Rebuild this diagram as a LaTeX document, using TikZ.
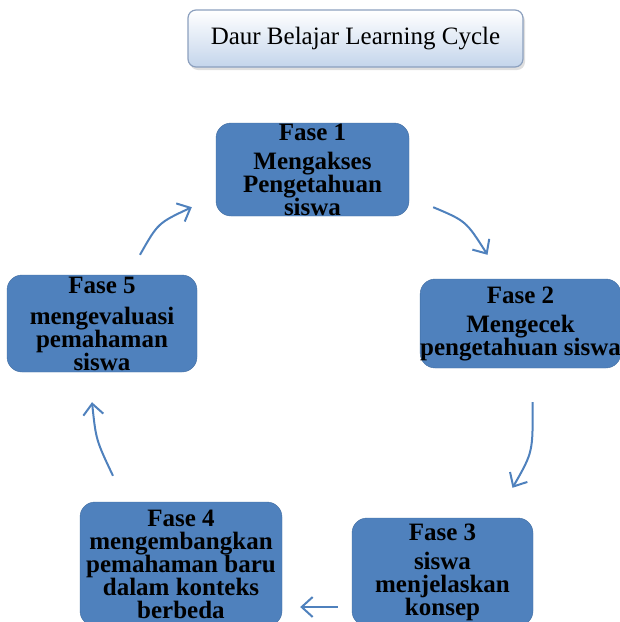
\documentclass[tikz,border=0pt]{standalone}
\usepackage{fontspec}
\setmainfont{Liberation Serif}
\usepackage{xcolor}
\definecolor{boxblue}{RGB}{79, 129, 189}
\definecolor{titleline}{RGB}{140, 160, 190}
\definecolor{titlebot}{RGB}{196, 213, 235}
\usetikzlibrary{arrows.meta,shadows}

\begin{document}
\begin{tikzpicture}[
  x=1pt, y=-1pt,
  fasebox/.style={draw=boxblue!85!black, fill=boxblue, rounded corners=15pt, align=center, inner sep=0pt,
    font=\bfseries\fontsize{25}{23}\selectfont},
  titlebox/.style={draw=titleline, line width=1.2pt, top color=white, bottom color=titlebot, rounded corners=8pt,
    minimum width=335pt, minimum height=57pt, font=\fontsize{25}{28}\selectfont,
    drop shadow={shadow xshift=2pt, shadow yshift=-3pt, opacity=0.25}},
  cycarrow/.style={-{Straight Barb[length=11pt, width=20pt]}, line width=2pt, color=boxblue}
]
\useasboundingbox (0,0) rectangle (620,622);

\node[titlebox] (title) at (355.5,38.5) {Daur Belajar Learning Cycle};

\node[fasebox, minimum width=193pt, minimum height=93pt] (f1) at (312.5,169.5) {Fase 1\\[6pt] Mengakses\\Pengetahuan\\siswa};
\node[fasebox, minimum width=197pt, minimum height=89pt] (f2) at (520.5,323.5) {Fase 2\\[6pt] Mengecek\\pengetahuan siswa};
\node[fasebox, minimum width=181pt, minimum height=108pt] (f3) at (442.5,572) {Fase 3\\[6pt] siswa\\menjelaskan\\konsep};
\node[fasebox, minimum width=202pt, minimum height=124pt] (f4) at (181,564) {Fase 4\\mengembangkan\\pemahaman baru\\dalam konteks\\berbeda};
\node[fasebox, minimum width=190pt, minimum height=97pt] (f5) at (102,323.5) {Fase 5\\[8pt] mengevaluasi\\pemahaman\\siswa};

% arrows between the phases
\draw[cycarrow] ([shift={(24,-9)}]f1.south east) .. controls (466,221) .. ([shift={(-33,-24)}]f2.north);
\draw[cycarrow] ([shift={(12,34)}]f2.south) .. controls (533,452) .. ([shift={(70,-30)}]f3.north);
\draw[cycarrow] ([shift={(-14,35)}]f3.west) -- ([shift={(18,43)}]f4.east);
\draw[cycarrow] ([shift={(-68,-26)}]f4.north) .. controls (96,440) .. ([shift={(-10,30)}]f5.south);
\draw[cycarrow] ([shift={(38,-20)}]f5.north) .. controls (158,223) .. ([shift={(-24,-9)}]f1.south west);
\end{tikzpicture}
\end{document}
